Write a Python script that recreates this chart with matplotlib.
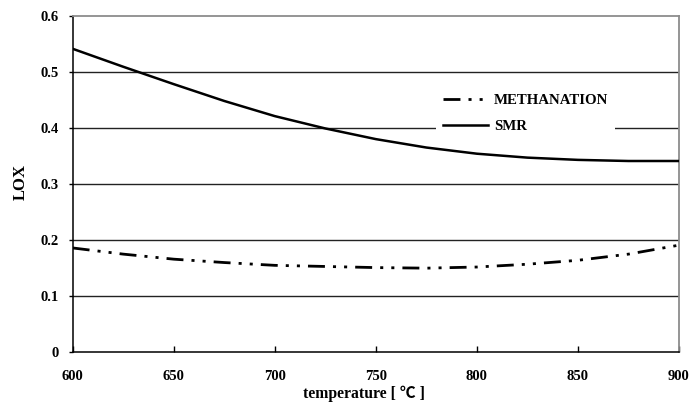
import matplotlib
matplotlib.use('Agg')
import matplotlib.pyplot as plt

plt.rcParams['font.family'] = ['Liberation Serif', 'Noto Sans CJK JP', 'DejaVu Sans']
plt.rcParams['font.weight'] = 'bold'
plt.rcParams['lines.scale_dashes'] = False

# temperatures in deg C
temp = [600, 625, 650, 675, 700, 725, 750, 775, 800, 825, 850, 875, 900]
smr = [0.541, 0.509, 0.478, 0.448, 0.421, 0.399, 0.380, 0.365, 0.354, 0.347, 0.343, 0.341, 0.341]
methanation = [0.186, 0.175, 0.166, 0.160, 0.155, 0.153, 0.151, 0.150, 0.152, 0.157, 0.164, 0.175, 0.191]

yticks = [0, 0.1, 0.2, 0.3, 0.4, 0.5, 0.6]
xticks = [600, 650, 700, 750, 800, 850, 900]

fig = plt.figure(figsize=(6.92, 4.03), dpi=100)
ax = fig.add_axes([72.7 / 692, 1 - 352.3 / 403, 606.3 / 692, 336.6 / 403])

for y in yticks[1:-1]:
    ax.axhline(y, color='#222222', lw=1.0, zorder=1)

ax.plot(temp, methanation, color='black', lw=2.0,
        linestyle=(0, (12.2, 5.8, 2.2, 5.8, 2.2, 5.8)), label='METHANATION', zorder=3)
ax.plot(temp, smr, color='black', lw=1.8, label='SMR', zorder=3)

ax.set_xlim(600, 900)
ax.set_ylim(0, 0.6)
ax.set_xticks(xticks)
ax.set_yticks(yticks)
ax.set_yticklabels(['0', '0.1', '0.2', '0.3', '0.4', '0.5', '0.6'])

ax.tick_params(axis='x', direction='in', length=4, width=1, labelsize=10.5, pad=12.5)
ax.tick_params(axis='y', direction='out', length=3, width=1, labelsize=10.5, pad=7)

for s in ['left', 'bottom']:
    ax.spines[s].set_color('black')
    ax.spines[s].set_linewidth(1.1)
for s in ['top', 'right']:
    ax.spines[s].set_color('#8c8c8c')
    ax.spines[s].set_linewidth(1.3)

ax.set_ylabel('LOX', fontsize=12, fontweight='bold', va='center')
ax.yaxis.set_label_coords(-0.0853, 0.506)
ax.set_xlabel('temperature [ ℃ ]', fontsize=11.3, fontweight='bold')
ax.xaxis.set_label_coords(0.481, -0.100)

leg = ax.legend(loc='upper left', bbox_to_anchor=(0.600, 0.788), borderaxespad=0,
                fontsize=10.7, handlelength=3.0, handletextpad=0.4, labelspacing=0.85,
                borderpad=0.45, frameon=True, fancybox=False)
leg.get_frame().set_facecolor('white')
leg.get_frame().set_edgecolor('none')
leg.get_frame().set_alpha(1)

fig.savefig('out.png', dpi=100)
